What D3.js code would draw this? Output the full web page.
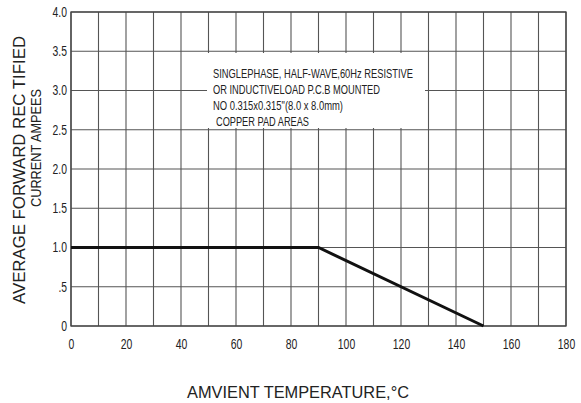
<!DOCTYPE html>
<html><head><meta charset="utf-8">
<script src="https://cdnjs.cloudflare.com/ajax/libs/d3/7.8.5/d3.min.js"></script>
<style>
body{margin:0;background:#fff;}
svg{display:block;}
text{fill:#222;}
</style></head>
<body><svg id="c" width="581" height="403"></svg>
<script>
const xTicks = [0,20,40,60,80,100,120,140,160,180];
const xGrid = [0,10,20,30,40,50,60,70,80,90,100,110,120,130,140,150,160,170,180];
const yTicks = [0,0.5,1.0,1.5,2.0,2.5,3.0,3.5,4.0];
const yTickLabels = ["0",".5","1.0","1.5","2.0","2.5","3.0","3.5","4.0"];
const curveTemp = [0,90,150];
const curveAmps = [1.0,1.0,0];
const noteLines = ["SINGLEPHASE, HALF-WAVE,60Hz RESISTIVE","OR INDUCTIVELOAD P.C.B MOUNTED","NO 0.315x0.315\"(8.0 x 8.0mm)","COPPER PAD AREAS"];
const noteWidths = [200,167,130,93];
const yTitle1 = "AVERAGE FORWARD REC TIFIED";
const yTitle2 = "CURRENT AMPEES";
const xTitle = "AMVIENT TEMPERATURE,\u00B0C";

const svg = d3.select("#c");
const x = d3.scaleLinear().domain([0,180]).range([71,566]);
const y = d3.scaleLinear().domain([0,4]).range([326,12]);
const font = "'Liberation Sans',Arial,sans-serif";
const lblW = s => s.split("").reduce((a,c)=>a+(c==="."?2.8:5.8),0);

// grid
svg.append("g").selectAll("line").data(xGrid).join("line")
  .attr("x1",d=>x(d)).attr("x2",d=>x(d)).attr("y1",y(0)).attr("y2",y(4))
  .attr("stroke","#555").attr("stroke-width",1.1);
svg.append("g").selectAll("line").data(yTicks).join("line")
  .attr("x1",x(0)).attr("x2",x(180)).attr("y1",d=>y(d)).attr("y2",d=>y(d))
  .attr("stroke","#555").attr("stroke-width",1.1);
svg.append("rect").attr("x",x(0)).attr("y",y(4)).attr("width",x(180)-x(0)).attr("height",y(0)-y(4))
  .attr("fill","none").attr("stroke","#444").attr("stroke-width",1.3);

// axes labels
const ya = d3.axisLeft(y).tickValues(yTicks).tickFormat((d,i)=>yTickLabels[i]).tickSize(0).tickPadding(4);
const gy = svg.append("g").attr("transform",`translate(${x(0)},0)`).call(ya);
gy.select(".domain").remove();
gy.selectAll("text").attr("font-family",font).attr("font-size",14).attr("fill","#222")
  .attr("textLength",function(){return lblW(this.textContent);}).attr("lengthAdjust","spacingAndGlyphs");
const xa = d3.axisBottom(x).tickValues(xTicks).tickFormat(d3.format("d")).tickSize(0).tickPadding(12);
const gx = svg.append("g").attr("transform",`translate(0,${y(0)})`).call(xa);
gx.select(".domain").remove();
gx.selectAll("text").attr("font-family",font).attr("font-size",15).attr("fill","#222")
  .attr("textLength",function(){return lblW(this.textContent);}).attr("lengthAdjust","spacingAndGlyphs");

// note box
svg.append("rect").attr("x",207).attr("y",53).attr("width",218).attr("height",75).attr("fill","#fff");
svg.append("g").selectAll("text").data(noteLines).join("text")
  .attr("x",(d,i)=>i===3?216:213).attr("y",(d,i)=>78+i*16)
  .attr("font-family",font).attr("font-size",13)
  .attr("textLength",(d,i)=>noteWidths[i]).attr("lengthAdjust","spacingAndGlyphs")
  .text(d=>d);

// curve
svg.append("path").datum(curveTemp.map((t,i)=>[t,curveAmps[i]]))
  .attr("d",d3.line().x(d=>x(d[0])).y(d=>y(d[1])))
  .attr("fill","none").attr("stroke","#111").attr("stroke-width",3);

// titles
svg.append("text").attr("transform","translate(25,170) rotate(-90)")
  .attr("text-anchor","middle").attr("font-family",font).attr("font-size",16.5)
  .attr("textLength",268).attr("lengthAdjust","spacingAndGlyphs").text(yTitle1);
svg.append("text").attr("transform","translate(41,148) rotate(-90)")
  .attr("text-anchor","middle").attr("font-family",font).attr("font-size",15.5)
  .attr("textLength",118).attr("lengthAdjust","spacingAndGlyphs").text(yTitle2);
svg.append("text").attr("x",187).attr("y",398)
  .attr("font-family",font).attr("font-size",16.5)
  .attr("textLength",222).attr("lengthAdjust","spacingAndGlyphs").text(xTitle);
</script></body></html>
